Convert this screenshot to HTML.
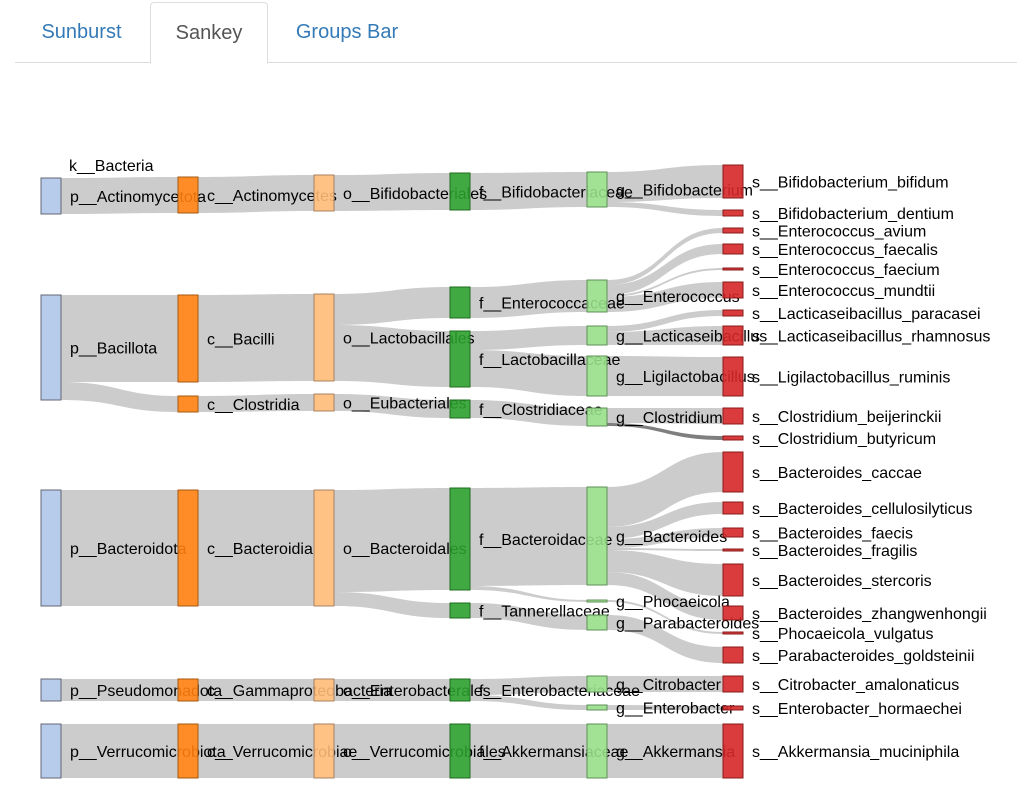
<!DOCTYPE html>
<html><head><meta charset="utf-8"><style>
html,body{margin:0;padding:0;background:#fff;width:1026px;height:796px;overflow:hidden;font-family:"Liberation Sans",sans-serif}
.tabs{position:absolute;left:15px;top:0;width:1002px;height:62px;border-bottom:1px solid #ddd}
.tab{position:absolute;top:2px;height:60px;line-height:60px;font-size:20px;color:#337ab7;text-align:center}
.act{border:1px solid #ddd;border-bottom:1px solid #fff;border-radius:4px 4px 0 0;color:#555;background:#fff;height:60px}
svg{position:absolute;left:0;top:0}
</style></head><body>
<div class="tabs">
<div class="tab" style="left:0;width:133px">Sunburst</div>
<div class="tab act" style="left:135px;width:116px">Sankey</div>
<div class="tab" style="left:252px;width:160px">Groups Bar</div>
</div>
<svg id="s" width="1026" height="796" xmlns="http://www.w3.org/2000/svg" font-family="Liberation Sans, sans-serif" font-size="16"></svg>
<script>
var X=[41,178,314,450,587,723],W=20;
var cols=["#aec7e8","#ff7f0e","#ffbb78","#2ca02c","#98df8a","#d62728"];
var strokes=["#667","#a55a10","#a88060","#1e6b1e","#5f8f58","#8b1a1a"];
var nodes=[
[0,178,214,"p__Actinomycetota"],[0,295,400,"p__Bacillota"],[0,490,606,"p__Bacteroidota"],[0,679,701,"p__Pseudomonadota"],[0,724,778,"p__Verrucomicrobiota"],
[1,177,213,"c__Actinomycetes"],[1,295,382,"c__Bacilli"],[1,396,412,"c__Clostridia"],[1,490,606,"c__Bacteroidia"],[1,679,701,"c__Gammaproteobacteria"],[1,724,778,"c__Verrucomicrobiae"],
[2,175,211,"o__Bifidobacteriales"],[2,294,381,"o__Lactobacillales"],[2,394,411,"o__Eubacteriales"],[2,490,606,"o__Bacteroidales"],[2,679,701,"o__Enterobacterales"],[2,724,778,"o__Verrucomicrobiales"],
[3,173,210,"f__Bifidobacteriaceae"],[3,287,318,"f__Enterococcaceae"],[3,331,387,"f__Lactobacillaceae"],[3,400,418,"f__Clostridiaceae"],[3,488,590,"f__Bacteroidaceae"],[3,603,618,"f__Tannerellaceae"],[3,679,701,"f__Enterobacteriaceae"],[3,724,778,"f__Akkermansiaceae"],
[4,172,207,"g__Bifidobacterium"],[4,280,312,"g__Enterococcus"],[4,326,345,"g__Lacticaseibacillus"],[4,356,396,"g__Ligilactobacillus"],[4,408,426,"g__Clostridium"],[4,487,585,"g__Bacteroides"],[4,600,602,"g__Phocaeicola"],[4,615,630,"g__Parabacteroides"],[4,676,692,"g__Citrobacter"],[4,705,710,"g__Enterobacter"],[4,724,778,"g__Akkermansia"],
[5,165,198,"s__Bifidobacterium_bifidum"],[5,210,216,"s__Bifidobacterium_dentium"],[5,228,233,"s__Enterococcus_avium"],[5,244,254,"s__Enterococcus_faecalis"],[5,268,270,"s__Enterococcus_faecium"],[5,282,298,"s__Enterococcus_mundtii"],[5,310,316,"s__Lacticaseibacillus_paracasei"],[5,326,345,"s__Lacticaseibacillus_rhamnosus"],[5,357,396,"s__Ligilactobacillus_ruminis"],[5,408,424,"s__Clostridium_beijerinckii"],[5,436,440,"s__Clostridium_butyricum"],[5,452,492,"s__Bacteroides_caccae"],[5,502,514,"s__Bacteroides_cellulosilyticus"],[5,528,537,"s__Bacteroides_faecis"],[5,549,551,"s__Bacteroides_fragilis"],[5,564,596,"s__Bacteroides_stercoris"],[5,606,620,"s__Bacteroides_zhangwenhongii"],[5,632,634,"s__Phocaeicola_vulgatus"],[5,647,663,"s__Parabacteroides_goldsteinii"],[5,676,692,"s__Citrobacter_amalonaticus"],[5,706,710,"s__Enterobacter_hormaechei"],[5,724,778,"s__Akkermansia_muciniphila"]];
var L=[
[0,178,214,177,213],[0,295,382,295,382],[0,382,400,396,412],[0,490,606,490,606],[0,679,701,679,701],[0,724,778,724,778],
[1,177,213,175,211],[1,295,382,294,381],[1,396,412,394,411],[1,490,606,490,606],[1,679,701,679,701],[1,724,778,724,778],
[2,175,211,173,210],[2,294,325,287,318],[2,325,381,331,387],[2,394,411,400,418],[2,490,592,488,590],[2,592,606,603,618],[2,679,701,679,701],[2,724,778,724,778],
[3,173,210,172,207],[3,287,318,280,312],[3,331,350,326,345],[3,350,387,356,396],[3,400,418,408,426],[3,488,586,487,585],[3,586,590,600,602],[3,603,618,615,630],[3,679,695,676,692],[3,695,701,705,710],[3,724,778,724,778],
[4,172,202,165,198],[4,202,207,210,216],[4,280,285,228,233],[4,285,295,244,254],[4,295,297,268,270],[4,297,312,282,298],[4,326,332,310,316],[4,332,345,326,345],[4,356,396,357,396],[4,408,423,408,424],[4,423,426,436,440,0.5],
[4,487,527,452,492],[4,527,539,502,514],[4,539,548,528,537],[4,548,550,549,551],[4,550,572,564,596],[4,572,585,606,620],[4,600,602,632,634],[4,615,630,647,663],[4,676,692,676,692],[4,705,710,706,710],[4,724,778,724,778]];
var s=document.getElementById('s'),h='';
L.forEach(function(l){var x0=X[l[0]]+W,x1=X[l[0]+1],m=(x0+x1)/2,o=l[5]||0.2;
h+='<path d="M'+x0+','+l[1]+'C'+m+','+l[1]+' '+m+','+l[3]+' '+x1+','+l[3]+'L'+x1+','+l[4]+'C'+m+','+l[4]+' '+m+','+l[2]+' '+x0+','+l[2]+'Z" fill="#000" fill-opacity="'+o+'"/>';});
h+='<text x="69" y="171">k__Bacteria</text>';
nodes.forEach(function(n){h+='<text x="'+(X[n[0]]+W+9)+'" y="'+((n[1]+n[2])/2+6)+'">'+n[3]+'</text>';});
nodes.forEach(function(n){var hh=Math.max(n[2]-n[1],2);h+='<rect x="'+X[n[0]]+'" y="'+n[1]+'" width="'+W+'" height="'+hh+'" fill="'+cols[n[0]]+'" fill-opacity="0.9" stroke="'+strokes[n[0]]+'" stroke-width="1"/>';});
s.innerHTML=h;
</script>
</body></html>
